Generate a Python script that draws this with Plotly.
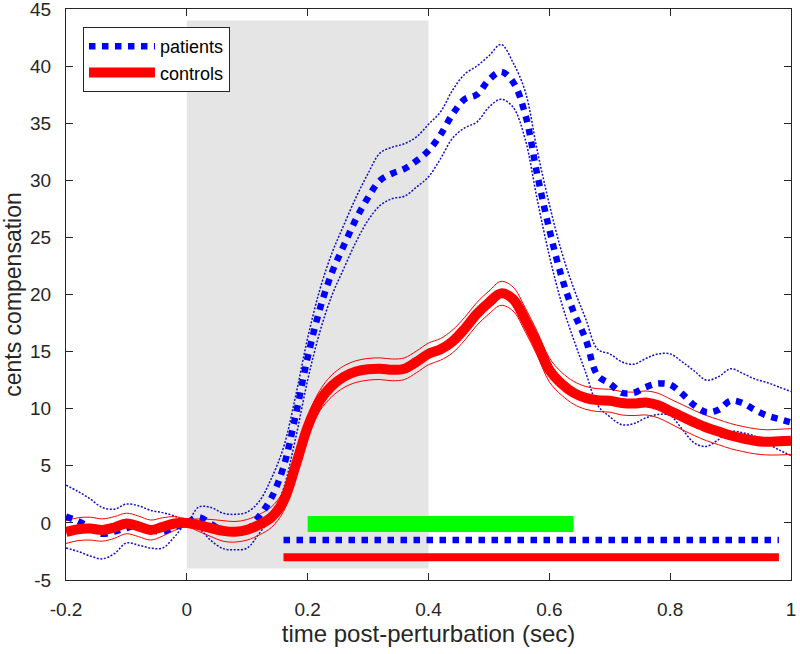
import plotly.graph_objects as go

# time grid (sec)
t = [-0.20, -0.18, -0.16, -0.14, -0.12, -0.10, -0.08, -0.06, -0.04, -0.02,
     0.00, 0.02, 0.04, 0.06, 0.08, 0.10, 0.12, 0.14, 0.16, 0.18,
     0.20, 0.22, 0.24, 0.26, 0.28, 0.30, 0.32, 0.34, 0.36, 0.38,
     0.40, 0.42, 0.44, 0.46, 0.48, 0.50, 0.52, 0.54, 0.56, 0.58,
     0.60, 0.62, 0.64, 0.66, 0.68, 0.70, 0.72, 0.74, 0.76, 0.78,
     0.80, 0.82, 0.84, 0.86, 0.88, 0.90, 0.92, 0.94, 0.96, 0.98, 1.00]

patients_mean = [0.55, 0.15, -0.4, -0.95, -0.75, -0.45, -0.2, -0.6, -0.75, -0.35,
                 0.0, 0.5, -0.1, -0.7, -0.8, -0.6, 0.6, 2.2, 4.9, 9.4,
                 14.5, 18.7, 21.9, 24.3, 26.6, 28.5, 30.0, 30.6, 31.0, 31.7,
                 32.6, 34.0, 35.8, 37.1, 37.5, 38.8, 39.5, 38.6, 35.8, 30.5,
                 25.7, 21.6, 18.5, 16.1, 12.9, 12.2, 11.4, 11.4, 11.9, 12.2,
                 12.1, 11.3, 10.3, 9.7, 9.9, 10.7, 10.5, 9.9, 9.4, 9.1, 8.8]
patients_upper = [3.3, 2.75, 2.1, 1.35, 1.2, 1.65, 1.5, 1.1, 0.9, 0.6,
                  0.15, 1.4, 1.35, 0.85, 0.75, 0.95, 1.9, 3.9, 6.6, 11.1,
                  16.2, 20.4, 23.6, 26.1, 28.5, 30.6, 32.4, 32.9, 33.2, 33.8,
                  34.9, 36.0, 37.9, 39.3, 40.0, 40.9, 41.9, 40.3, 37.8, 32.6,
                  27.9, 23.8, 20.6, 17.9, 15.2, 14.8, 14.1, 13.9, 14.4, 14.8,
                  14.8, 14.1, 13.3, 12.5, 12.8, 13.5, 13.1, 12.6, 12.3, 11.9, 11.5]
patients_lower = [-2.2, -2.5, -2.9, -3.15, -2.7, -1.75, -1.95, -2.2, -2.2, -1.2,
                  -0.1, -0.5, -1.55, -2.25, -2.35, -2.2, -0.9, 0.5, 3.0, 7.4,
                  12.5, 16.7, 19.9, 22.3, 24.6, 26.5, 27.8, 28.4, 28.6, 29.4,
                  30.3, 31.9, 33.7, 34.6, 35.1, 36.4, 37.1, 36.4, 33.6, 28.3,
                  23.4, 19.3, 16.1, 13.2, 10.3, 9.3, 8.6, 8.7, 9.2, 9.5,
                  9.4, 8.2, 7.0, 6.7, 7.3, 8.0, 7.9, 7.6, 7.0, 6.4, 5.9]

controls_mean = [-0.8, -0.55, -0.5, -0.62, -0.4, -0.05, -0.3, -0.62, -0.35, -0.05,
                 0.0, -0.2, -0.45, -0.7, -0.78, -0.6, -0.15, 0.5, 1.9, 5.0,
                 8.4, 10.7, 12.0, 12.8, 13.25, 13.45, 13.5, 13.4, 13.5, 14.1,
                 14.8, 15.2, 15.9, 17.0, 18.3, 19.3, 20.1, 19.6, 17.8, 15.7,
                 13.4, 12.2, 11.4, 10.95, 10.75, 10.7, 10.5, 10.45, 10.55, 10.3,
                 9.8, 9.3, 8.8, 8.35, 8.0, 7.65, 7.4, 7.2, 7.1, 7.15, 7.2]
controls_upper = [0.2, 0.45, 0.5, 0.35, 0.55, 0.85, 0.6, 0.25, 0.45, 0.55,
                  0.35, 0.35, 0.3, 0.2, 0.12, 0.3, 0.75, 1.4, 2.8, 5.9,
                  9.3, 11.6, 12.95, 13.75, 14.2, 14.4, 14.45, 14.35, 14.45, 15.05,
                  15.75, 16.15, 16.9, 18.0, 19.3, 20.3, 21.15, 20.65, 18.85, 16.75,
                  14.45, 13.2, 12.4, 11.95, 11.75, 11.7, 11.5, 11.45, 11.55, 11.35,
                  10.85, 10.35, 9.85, 9.4, 9.05, 8.7, 8.45, 8.25, 8.15, 8.2, 8.25]
controls_lower = [-1.8, -1.55, -1.5, -1.6, -1.35, -0.95, -1.2, -1.5, -1.15, -0.65,
                  -0.35, -0.75, -1.2, -1.6, -1.68, -1.5, -1.05, -0.4, 1.0, 4.1,
                  7.5, 9.8, 11.05, 11.85, 12.3, 12.5, 12.55, 12.45, 12.55, 13.15,
                  13.85, 14.25, 14.9, 16.0, 17.3, 18.3, 19.05, 18.55, 16.75, 14.65,
                  12.35, 11.2, 10.4, 9.95, 9.75, 9.7, 9.45, 9.4, 9.45, 9.2,
                  8.7, 8.15, 7.65, 7.2, 6.85, 6.5, 6.25, 6.05, 5.95, 5.95, 6.0]

# shaded perturbation window
shade_x = [0.0, 0.4]
shade_y = [-4.0, 44.0]

# significance bars
sig_group_x = [0.20, 0.64]
sig_group_y = [-0.1, -0.1]
sig_patients_x = [0.16, 0.98]
sig_patients_y = [-1.5, -1.5]
sig_controls_x = [0.16, 0.98]
sig_controls_y = [-3.0, -3.0]

x_ticks = [-0.2, 0, 0.2, 0.4, 0.6, 0.8, 1]
x_ticktext = ["-0.2", "0", "0.2", "0.4", "0.6", "0.8", "1"]
y_ticks = [-5, 0, 5, 10, 15, 20, 25, 30, 35, 40, 45]
y_ticktext = ["-5", "0", "5", "10", "15", "20", "25", "30", "35", "40", "45"]

BLUE = "#0000ff"
RED = "#ff0000"
GREEN = "#00ff00"
AX = "#262626"
FONT = "Liberation Sans, Arial, sans-serif"

fig = go.Figure()

# patients SE bounds
for yb in (patients_upper, patients_lower):
    fig.add_trace(go.Scatter(x=t, y=yb, mode="lines", showlegend=False, hoverinfo="skip",
                             line=dict(color="#1010c8", width=1.5, dash="2px,1.6px",
                                       shape="spline", smoothing=1)))
# controls SE bounds
for yb in (controls_upper, controls_lower):
    fig.add_trace(go.Scatter(x=t, y=yb, mode="lines", showlegend=False, hoverinfo="skip",
                             line=dict(color=RED, width=1, shape="spline", smoothing=1)))

# means
fig.add_trace(go.Scatter(x=t, y=patients_mean, mode="lines", name="patients",
                         line=dict(color=BLUE, width=6.5, dash="dot",
                                   shape="spline", smoothing=1)))
fig.add_trace(go.Scatter(x=t, y=controls_mean, mode="lines", name="controls",
                         line=dict(color=RED, width=10, shape="spline", smoothing=1)))

# significance bars
fig.add_trace(go.Scatter(x=sig_group_x, y=sig_group_y, mode="lines", showlegend=False,
                         hoverinfo="skip", line=dict(color=GREEN, width=16)))
fig.add_trace(go.Scatter(x=sig_patients_x, y=sig_patients_y, mode="lines", showlegend=False,
                         hoverinfo="skip", line=dict(color=BLUE, width=6.5, dash="dot")))
fig.add_trace(go.Scatter(x=sig_controls_x, y=sig_controls_y, mode="lines", showlegend=False,
                         hoverinfo="skip", line=dict(color=RED, width=8)))

fig.add_shape(type="rect", xref="x", yref="y",
              x0=shade_x[0], x1=shade_x[1], y0=shade_y[0], y1=shade_y[1],
              fillcolor="#e5e5e5", line=dict(width=0), layer="below")

axis_common = dict(showline=True, linecolor=AX, linewidth=1, mirror="ticks",
                   ticks="inside", ticklen=7, tickwidth=1, tickcolor=AX,
                   showgrid=False, zeroline=False, automargin=False,
                   ticklabeloverflow="allow",
                   tickfont=dict(family=FONT, size=19, color=AX))

fig.update_layout(
    width=800, height=654,
    margin=dict(l=66, r=9, t=9, b=74),
    paper_bgcolor="white", plot_bgcolor="white",
    font=dict(family=FONT, color=AX),
    xaxis=dict(range=[-0.2, 1.0], tickvals=x_ticks, ticktext=x_ticktext,
               ticklabelstandoff=12,
               title=dict(text="time post-perturbation (sec)",
                          font=dict(family=FONT, size=24, color=AX), standoff=4),
               **axis_common),
    yaxis=dict(range=[-5, 45], tickvals=y_ticks, ticktext=y_ticktext,
               ticklabelstandoff=10,
               title=dict(text="cents compensation",
                          font=dict(family=FONT, size=23, color=AX), standoff=6),
               **axis_common),
    legend=dict(x=0.0234, y=0.9685, xanchor="left", yanchor="top",
                bgcolor="white", bordercolor=AX, borderwidth=1,
                font=dict(family=FONT, size=18, color="#000000"),
                itemwidth=66, tracegroupgap=0),
    showlegend=True,
)

fig.write_html("out.html", config={"displayModeBar": False},
               post_script="document.body.style.margin='0px';document.body.style.overflow='hidden';")
